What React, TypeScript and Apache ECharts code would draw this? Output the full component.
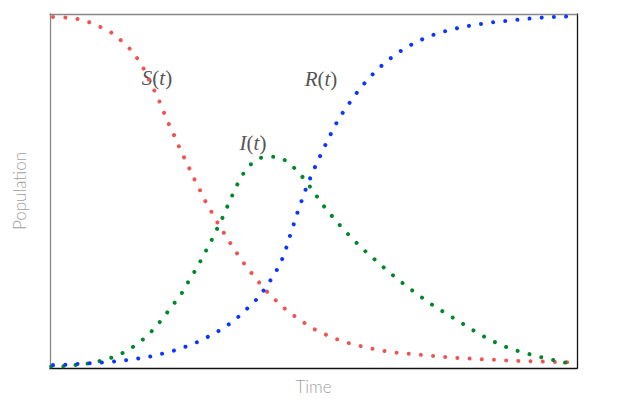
import React, { useEffect, useRef } from "react";
import * as echarts from "echarts";

// [time, fraction of population]
const susceptible: [number, number][] = [
  [0, 0.999], [2.85, 0.997], [5.12, 0.993], [7.34, 0.984], [9.43, 0.971], [11.44, 0.956],
  [13.28, 0.934], [14.99, 0.91], [16.38, 0.884], [17.65, 0.854], [18.6, 0.825], [19.68, 0.792],
  [20.63, 0.762], [21.5, 0.73], [22.39, 0.698], [23.34, 0.668], [24.29, 0.635], [25.24, 0.604],
  [26.24, 0.573], [27.19, 0.542], [28.22, 0.512], [29.22, 0.48], [30.36, 0.45], [31.5, 0.419],
  [32.64, 0.391], [33.83, 0.362], [35.1, 0.333], [36.38, 0.304], [37.76, 0.277], [39.22, 0.25],
  [40.66, 0.223], [42.26, 0.199], [43.89, 0.175], [45.67, 0.153], [47.5, 0.134], [49.39, 0.114],
  [51.23, 0.1], [53.32, 0.086], [55.41, 0.074], [57.69, 0.064], [59.96, 0.056], [62.24, 0.049],
  [64.52, 0.043], [66.93, 0.039], [69.2, 0.036], [71.48, 0.033], [73.76, 0.03], [76.03, 0.027],
  [78.31, 0.025], [80.59, 0.023], [82.87, 0.021], [85.14, 0.02], [87.42, 0.018], [89.7, 0.017],
  [91.97, 0.016], [94.25, 0.015], [96.53, 0.014], [98.67, 0.013], [100, 0.0125],
];

const infected: [number, number][] = [
  [0, 0.001], [2.52, 0.002], [4.88, 0.0057], [7.08, 0.0094], [9.3, 0.0163], [11.52, 0.0257],
  [13.66, 0.0391], [15.62, 0.0562], [17.46, 0.0762], [19.17, 0.0999], [20.68, 0.1255], [22.07, 0.1521],
  [23.47, 0.1797], [24.91, 0.2083], [26.0, 0.2368], [27.19, 0.2662], [28.33, 0.2959], [29.41, 0.3261],
  [30.49, 0.3566], [31.5, 0.388], [32.51, 0.4185], [33.45, 0.4508], [34.35, 0.4813], [35.29, 0.5127],
  [36.38, 0.5441], [37.63, 0.5706], [39.41, 0.5934], [41.75, 0.6], [43.97, 0.5949], [45.86, 0.5743],
  [47.44, 0.5506], [48.9, 0.523], [50.23, 0.4956], [51.56, 0.467], [52.94, 0.4408], [54.46, 0.4137],
  [55.98, 0.388], [57.55, 0.3638], [59.15, 0.3395], [60.85, 0.3167], [62.56, 0.2939], [64.33, 0.271],
  [66.09, 0.2491], [67.87, 0.2282], [69.7, 0.2074], [71.54, 0.1874], [73.43, 0.1683], [75.39, 0.1504],
  [77.36, 0.1321], [79.32, 0.1141], [81.21, 0.0961], [83.24, 0.0799], [85.26, 0.0648], [87.42, 0.0522],
  [89.62, 0.0419], [91.78, 0.0334], [93.99, 0.0248], [96.26, 0.0171], [98.48, 0.0106], [100, 0.008],
];

const recovered: [number, number][] = [
  [0, 0.005], [2.9, 0.0066], [5.18, 0.0086], [7.46, 0.0106], [9.73, 0.0123], [12.01, 0.0151],
  [14.29, 0.0191], [16.57, 0.0237], [18.84, 0.0294], [21.06, 0.0371], [23.28, 0.0456], [25.43, 0.0562],
  [27.57, 0.0685], [29.66, 0.0836], [31.69, 0.0999], [33.59, 0.1178], [35.43, 0.1389], [37.13, 0.1626],
  [38.75, 0.1855], [40.23, 0.212], [41.5, 0.2397], [42.75, 0.269], [43.83, 0.2996], [44.65, 0.3318],
  [45.35, 0.3652], [46.05, 0.3974], [46.72, 0.43], [47.48, 0.4622], [48.24, 0.4956], [49.09, 0.5278],
  [49.96, 0.5592], [50.91, 0.5906], [51.86, 0.6211], [52.88, 0.6525], [53.89, 0.6827], [55.03, 0.7133],
  [56.3, 0.7418], [57.63, 0.7703], [59.01, 0.7974], [60.53, 0.8237], [62.11, 0.8482], [63.81, 0.871],
  [65.65, 0.8921], [67.55, 0.911], [69.58, 0.9272], [71.67, 0.9415], [73.81, 0.9529], [76.0, 0.962],
  [78.24, 0.9694], [80.46, 0.9757], [82.73, 0.9806], [85.01, 0.9852], [87.29, 0.988], [89.56, 0.992],
  [91.84, 0.9949], [94.12, 0.9975], [96.39, 0.999], [98.67, 1.0], [100, 1.001],
];

const seriesNames = ["S", "I", "R"];
const axisNames = { x: "Time", y: "Population" };

export default function App() {
  const ref = useRef<HTMLDivElement>(null);
  useEffect(() => {
    if (!ref.current) return;
    const chart = echarts.init(ref.current, undefined, { renderer: "svg" });
    const dotted = (color: string, offset: number) => ({
      color,
      width: 4,
      type: [0.01, 12.19],
      dashOffset: offset,
      cap: "round",
    });
    const labelRich = {
      i: { fontStyle: "italic", fontFamily: "Liberation Serif", fontSize: 21, fill: "#555555" },
      n: { fontFamily: "Liberation Serif", fontSize: 21, fill: "#555555" },
    };
    const mkLabel = (name: string, x: number, y: number) => ({
      type: "text",
      x,
      y,
      style: {
        text: `{i|${name}}{n|(}{i|t}{n|)}`,
        rich: labelRich,
        align: "center",
        verticalAlign: "middle",
        fill: "#555555",
      },
    });
    chart.setOption({
      animation: false,
      grid: { left: 50, right: 48, top: 14, bottom: 45 },
      xAxis: [
        {
          type: "value", min: 0, max: 100, position: "bottom",
          name: axisNames.x, nameLocation: "middle", nameGap: 10,
          nameTextStyle: { fontFamily: "Lato", fontWeight: 300, fontSize: 17, color: "#a0a0a0" },
          axisLine: { show: true, onZero: false, lineStyle: { color: "#111", width: 1.3 } },
          axisTick: { show: false }, axisLabel: { show: false }, splitLine: { show: false },
        },
        {
          type: "value", min: 0, max: 100, position: "top",
          axisLine: { show: true, onZero: false, lineStyle: { color: "#888", width: 1.3 } },
          axisTick: { show: false }, axisLabel: { show: false }, splitLine: { show: false },
        },
      ],
      yAxis: [
        {
          type: "value", min: -0.003, max: 1.007, position: "left",
          name: axisNames.y, nameLocation: "middle", nameGap: 22,
          nameTextStyle: { fontFamily: "Lato", fontWeight: 300, fontSize: 17, color: "#a0a0a0" },
          axisLine: { show: true, onZero: false, lineStyle: { color: "#888", width: 1.3 } },
          axisTick: { show: false }, axisLabel: { show: false }, splitLine: { show: false },
        },
        {
          type: "value", min: -0.003, max: 1.007, position: "right",
          axisLine: { show: true, onZero: false, lineStyle: { color: "#111", width: 1.3 } },
          axisTick: { show: false }, axisLabel: { show: false }, splitLine: { show: false },
        },
      ],
      series: [
        { name: seriesNames[0], type: "line", data: susceptible, showSymbol: false, smooth: 0.3, lineStyle: dotted("#EE5550", 9.2) },
        { name: seriesNames[1], type: "line", data: infected, showSymbol: false, smooth: 0.3, lineStyle: dotted("#00872C", 11.2) },
        { name: seriesNames[2], type: "line", data: recovered, showSymbol: false, smooth: 0.3, lineStyle: dotted("#0A36FF", 9.2) },
      ],
      graphic: [
        mkLabel("S", 157, 78),
        mkLabel("I", 253, 143),
        mkLabel("R", 321, 79),
      ],
    });
    return () => chart.dispose();
  }, []);
  return (
    <div
      ref={ref}
      style={{ position: "absolute", left: 0, top: 0, width: 625, height: 413, background: "#fff" }}
    />
  );
}
